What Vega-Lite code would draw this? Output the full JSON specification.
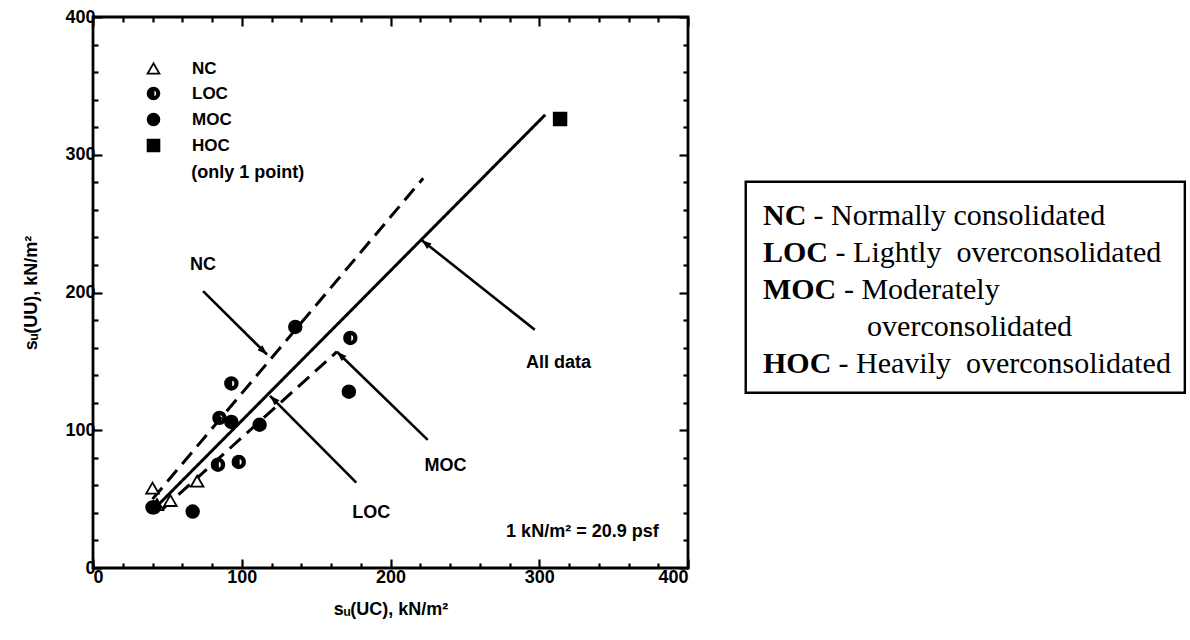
{
  "$schema": "https://vega.github.io/schema/vega-lite/v6.json",
  "width": 595,
  "height": 551,
  "autosize": {"type": "none"},
  "padding": {"left": 93, "top": 17, "right": 502, "bottom": 72},
  "background": "white",
  "config": {
    "view": {"stroke": "black", "strokeWidth": 2.8},
    "font": "Liberation Sans",
    "axis": {
      "domain": false,
      "grid": false,
      "tickColor": "black",
      "tickWidth": 2.2,
      "labelColor": "black",
      "labelFont": "Liberation Sans",
      "labelFontWeight": "bold",
      "labelFontSize": 18,
      "titleFont": "Liberation Sans",
      "titleFontWeight": "bold",
      "titleFontSize": 18,
      "titleColor": "black"
    }
  },
  "datasets": {
    "points": [
      {"group": "NC", "su_uc": 40, "su_uu": 58},
      {"group": "NC", "su_uc": 43, "su_uu": 46},
      {"group": "NC", "su_uc": 52, "su_uu": 49},
      {"group": "NC", "su_uc": 70, "su_uu": 63},
      {"group": "LOC", "su_uc": 40, "su_uu": 44},
      {"group": "LOC", "su_uc": 84, "su_uu": 75},
      {"group": "LOC", "su_uc": 98, "su_uu": 77},
      {"group": "LOC", "su_uc": 85, "su_uu": 109},
      {"group": "LOC", "su_uc": 93, "su_uu": 134},
      {"group": "LOC", "su_uc": 173, "su_uu": 167},
      {"group": "MOC", "su_uc": 41, "su_uu": 44},
      {"group": "MOC", "su_uc": 67, "su_uu": 41},
      {"group": "MOC", "su_uc": 93, "su_uu": 106},
      {"group": "MOC", "su_uc": 112, "su_uu": 104},
      {"group": "MOC", "su_uc": 136, "su_uu": 175},
      {"group": "MOC", "su_uc": 172, "su_uu": 128},
      {"group": "HOC", "su_uc": 314, "su_uu": 326}
    ],
    "fits": [
      {"fit": "All data", "su_uc": 44, "su_uu": 46},
      {"fit": "All data", "su_uc": 304, "su_uu": 329},
      {"fit": "NC", "su_uc": 40, "su_uu": 50},
      {"fit": "NC", "su_uc": 222, "su_uu": 283},
      {"fit": "MOC", "su_uc": 46, "su_uu": 42},
      {"fit": "MOC", "su_uc": 164, "su_uu": 157}
    ],
    "arrows": [
      {"label": "NC", "from_uc": 74, "from_uu": 201, "to_uc": 117, "to_uu": 155},
      {"label": "All data", "from_uc": 297, "from_uu": 173, "to_uc": 221, "to_uu": 238},
      {"label": "MOC", "from_uc": 225, "from_uu": 93, "to_uc": 164, "to_uu": 157},
      {"label": "LOC", "from_uc": 177, "from_uu": 62, "to_uc": 119, "to_uu": 125}
    ],
    "notes": [
      {"text": "NC", "su_uc": 74, "su_uu": 220},
      {"text": "All data", "su_uc": 313, "su_uu": 149},
      {"text": "MOC", "su_uc": 237, "su_uu": 74},
      {"text": "LOC", "su_uc": 187, "su_uu": 40},
      {"text": "1 kN/m² = 20.9 psf", "su_uc": 329, "su_uu": 26},
      {"text": "(only 1 point)", "su_uc": 104, "su_uu": 287}
    ],
    "box": [
      {"left": 109.7, "right": 183.5, "bottom": 31.8, "top": 70.1}
    ],
    "boxText": [
      {"abbr": "NC", "abbr_x": 112.6, "desc": "- Normally consolidated", "desc_x": 121.1, "line_y": 62.3},
      {"abbr": "LOC", "abbr_x": 112.6, "desc": "- Lightly\u00a0 overconsolidated", "desc_x": 124.8, "line_y": 55.5},
      {"abbr": "MOC", "abbr_x": 112.6, "desc": "- Moderately", "desc_x": 126.2, "line_y": 48.8},
      {"abbr": "", "abbr_x": 112.6, "desc": "overconsolidated", "desc_x": 130.1, "line_y": 42.1},
      {"abbr": "HOC", "abbr_x": 112.6, "desc": "- Heavily\u00a0 overconsolidated", "desc_x": 125.3, "line_y": 35.4}
    ]
  },
  "layer": [
    {
      "layer": [
        {
          "data": {"name": "fits"},
          "mark": {"type": "line", "color": "black", "strokeWidth": 3},
          "encoding": {
            "x": {"field": "su_uc", "type": "quantitative", "scale": {"domain": [0, 400], "nice": false},
                  "axis": {"orient": "top", "labels": false, "title": null,
                           "values": [0,20,40,60,80,100,120,140,160,180,200,220,240,260,280,300,320,340,360,380,400],
                           "tickSize": {"condition": {"test": "datum.value % 100 === 0", "value": -9}, "value": -5}}},
            "y": {"field": "su_uu", "type": "quantitative", "scale": {"domain": [0, 400], "nice": false},
                  "axis": {"orient": "right", "labels": false, "title": null,
                           "values": [0,20,40,60,80,100,120,140,160,180,200,220,240,260,280,300,320,340,360,380,400],
                           "tickSize": {"condition": {"test": "datum.value % 100 === 0", "value": -9}, "value": -5}}},
            "detail": {"field": "fit", "type": "nominal"},
            "strokeDash": {"field": "fit", "type": "nominal",
                           "scale": {"domain": ["All data", "NC", "MOC"], "range": [[1, 0], [15, 8], [15, 8]]},
                           "legend": null}
          }
        },
        {
          "data": {"name": "arrows"},
          "mark": {"type": "rule", "color": "black", "strokeWidth": 2.6},
          "encoding": {
            "x": {"field": "from_uc", "type": "quantitative", "axis": null},
            "y": {"field": "from_uu", "type": "quantitative", "axis": null},
            "x2": {"field": "to_uc"},
            "y2": {"field": "to_uu"}
          }
        },
        {
          "data": {"name": "arrows"},
          "transform": [{"filter": "datum.label === 'NC'"}],
          "mark": {"type": "point", "shape": "M0,0L-0.5,1.4L0.5,1.4Z", "filled": true, "color": "black", "size": 196, "angle": 134, "opacity": 1},
          "encoding": {
            "x": {"field": "to_uc", "type": "quantitative", "axis": null},
            "y": {"field": "to_uu", "type": "quantitative", "axis": null}
          }
        },
        {
          "data": {"name": "arrows"},
          "transform": [{"filter": "datum.label === 'All data'"}],
          "mark": {"type": "point", "shape": "M0,0L-0.5,1.4L0.5,1.4Z", "filled": true, "color": "black", "size": 196, "angle": 309, "opacity": 1},
          "encoding": {
            "x": {"field": "to_uc", "type": "quantitative", "axis": null},
            "y": {"field": "to_uu", "type": "quantitative", "axis": null}
          }
        },
        {
          "data": {"name": "arrows"},
          "transform": [{"filter": "datum.label === 'MOC'"}],
          "mark": {"type": "point", "shape": "M0,0L-0.5,1.4L0.5,1.4Z", "filled": true, "color": "black", "size": 196, "angle": 314, "opacity": 1},
          "encoding": {
            "x": {"field": "to_uc", "type": "quantitative", "axis": null},
            "y": {"field": "to_uu", "type": "quantitative", "axis": null}
          }
        },
        {
          "data": {"name": "arrows"},
          "transform": [{"filter": "datum.label === 'LOC'"}],
          "mark": {"type": "point", "shape": "M0,0L-0.5,1.4L0.5,1.4Z", "filled": true, "color": "black", "size": 196, "angle": 315, "opacity": 1},
          "encoding": {
            "x": {"field": "to_uc", "type": "quantitative", "axis": null},
            "y": {"field": "to_uu", "type": "quantitative", "axis": null}
          }
        },
        {
          "data": {"name": "points"},
          "mark": {"type": "point", "filled": true, "strokeWidth": 1.8, "size": 160, "opacity": 1},
          "encoding": {
            "x": {"field": "su_uc", "type": "quantitative",
                  "axis": {"orient": "bottom", "title": "sᵤ(UC), kN/m²", "titlePadding": 14, "labelPadding": 9,
                           "labelFontSize": 18, "titleFontSize": 18, "labelFontWeight": "bold", "titleFontWeight": "bold",
                           "values": [0,20,40,60,80,100,120,140,160,180,200,220,240,260,280,300,320,340,360,380,400],
                           "labelExpr": "datum.value % 100 === 0 ? datum.label : ''",
                           "tickSize": {"condition": {"test": "datum.value % 100 === 0", "value": -9}, "value": -5}}},
            "y": {"field": "su_uu", "type": "quantitative",
                  "axis": {"orient": "left", "title": "sᵤ(UU), kN/m²", "titlePadding": 24, "labelPadding": 7,
                           "labelFontSize": 18, "titleFontSize": 18, "labelFontWeight": "bold", "titleFontWeight": "bold",
                           "values": [0,20,40,60,80,100,120,140,160,180,200,220,240,260,280,300,320,340,360,380,400],
                           "labelExpr": "datum.value % 100 === 0 ? datum.label : ''",
                           "tickSize": {"condition": {"test": "datum.value % 100 === 0", "value": -9}, "value": -5}}},
            "shape": {"field": "group", "type": "nominal",
                      "scale": {"domain": ["NC", "LOC", "MOC", "HOC"],
                                "range": ["triangle-up",
                                          "M0,-1A1,1 0 1,1 0,1A1,1 0 1,1 0,-1Z M0,-0.6A0.6,0.6 0 1,0 0,0.6A0.6,0.6 0 1,0 0,-0.6Z M0,0.6A0.6,0.6 0 0,1 0,-0.6Z",
                                          "circle", "square"]},
                      "legend": {"title": null, "orient": "none", "legendX": 52, "legendY": 43,
                                 "labelFont": "Liberation Sans", "labelFontWeight": "bold", "labelFontSize": 17,
                                 "labelColor": "black", "labelOffset": 30, "rowPadding": 5,
                                 "symbolStrokeWidth": 1.8, "symbolSize": 140}},
            "fill": {"field": "group", "type": "nominal",
                     "scale": {"domain": ["NC", "LOC", "MOC", "HOC"], "range": ["white", "black", "black", "black"]},
                     "legend": {"title": null, "orient": "none", "legendX": 52, "legendY": 43,
                                "labelFont": "Liberation Sans", "labelFontWeight": "bold", "labelFontSize": 17,
                                "labelColor": "black", "labelOffset": 30, "rowPadding": 5,
                                "symbolStrokeWidth": 1.8, "symbolSize": 140}},
            "stroke": {"field": "group", "type": "nominal",
                       "scale": {"domain": ["NC", "LOC", "MOC", "HOC"], "range": ["black", "black", "black", "black"]},
                       "legend": {"title": null, "orient": "none", "legendX": 52, "legendY": 43,
                                  "labelFont": "Liberation Sans", "labelFontWeight": "bold", "labelFontSize": 17,
                                  "labelColor": "black", "labelOffset": 30, "rowPadding": 5,
                                  "symbolStrokeWidth": 1.8, "symbolSize": 140}}
          }
        },
        {
          "data": {"name": "notes"},
          "mark": {"type": "text", "font": "Liberation Sans", "fontWeight": "bold", "fontSize": 18, "color": "black", "align": "center", "baseline": "middle"},
          "encoding": {
            "x": {"field": "su_uc", "type": "quantitative", "axis": null},
            "y": {"field": "su_uu", "type": "quantitative", "axis": null},
            "text": {"field": "text"}
          }
        }
      ],
      "resolve": {"axis": {"x": "independent", "y": "independent"}}
    },
    {
      "layer": [
        {
          "data": {"name": "box"},
          "mark": {"type": "rect", "fill": "white", "fillOpacity": 0, "stroke": "black", "strokeWidth": 2.4},
          "encoding": {
            "x": {"field": "left", "type": "quantitative", "scale": {"domain": [0, 100], "nice": false}, "axis": null},
            "x2": {"field": "right"},
            "y": {"field": "bottom", "type": "quantitative", "scale": {"domain": [0, 100], "nice": false}, "axis": null},
            "y2": {"field": "top"}
          }
        },
        {
          "data": {"name": "boxText"},
          "mark": {"type": "text", "font": "Liberation Serif", "fontWeight": "bold", "fontSize": 30, "color": "black", "align": "left", "baseline": "alphabetic"},
          "encoding": {
            "x": {"field": "abbr_x", "type": "quantitative", "axis": null},
            "y": {"field": "line_y", "type": "quantitative", "axis": null},
            "text": {"field": "abbr"}
          }
        },
        {
          "data": {"name": "boxText"},
          "mark": {"type": "text", "font": "Liberation Serif", "fontSize": 30, "color": "black", "align": "left", "baseline": "alphabetic"},
          "encoding": {
            "x": {"field": "desc_x", "type": "quantitative", "axis": null},
            "y": {"field": "line_y", "type": "quantitative", "axis": null},
            "text": {"field": "desc"}
          }
        }
      ]
    }
  ],
  "resolve": {"scale": {"x": "independent", "y": "independent"}}
}
